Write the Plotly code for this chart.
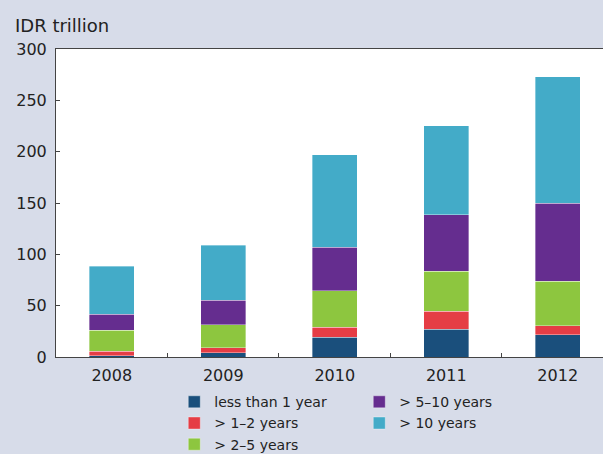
import plotly.graph_objects as go

years = ["2008", "2009", "2010", "2011", "2012"]
less_than_1 = [1.4, 4.3, 19.2, 26.9, 21.5]
y1_2 = [4.4, 4.8, 10.0, 17.8, 8.7]
y2_5 = [20.2, 22.4, 35.4, 39.0, 43.4]
y5_10 = [15.5, 23.9, 42.1, 55.1, 76.2]
gt10 = [46.7, 53.3, 90.5, 86.3, 123.1]

series_names = ["less than 1 year", "> 1–2 years", "> 2–5 years", "> 5–10 years", "> 10 years"]
series_values = [less_than_1, y1_2, y2_5, y5_10, gt10]
colors = ["#1a4f7c", "#e53d45", "#8dc63f", "#652d8f", "#43abc8"]
ranks = [1, 3, 5, 2, 4]

BG = "#d7dce9"
FONT = "DejaVu Sans"

fig = go.Figure()
for name, vals, col, rk in zip(series_names, series_values, colors, ranks):
    fig.add_trace(go.Bar(
        x=years, y=vals, name=name,
        marker=dict(color=col, line=dict(color="rgba(255,255,255,0.45)", width=0.8)),
        legendrank=rk,
    ))

fig.update_layout(
    width=603, height=454,
    barmode="stack", bargap=0.6,
    paper_bgcolor=BG, plot_bgcolor="white",
    margin=dict(l=56, r=0, t=48.5, b=97),
    font=dict(family=FONT, color="#222222", size=16),
    showlegend=True,
    legend=dict(
        orientation="h", xref="container", yref="container",
        x=0.289, y=0.1493, xanchor="left", yanchor="top",
        entrywidth=140, entrywidthmode="pixels",
        traceorder="normal", itemwidth=30,
        font=dict(family=FONT, size=14, color="#222222"),
        bgcolor="rgba(0,0,0,0)",
    ),
    annotations=[dict(
        text="IDR trillion", xref="paper", yref="paper",
        x=-0.0786, y=1.0762, xanchor="left", yanchor="middle",
        showarrow=False, font=dict(family=FONT, size=18, color="#222222"),
    )],
)

fig.update_xaxes(
    type="category", range=[-0.5, 4.406],
    showline=True, linecolor="#444444", linewidth=1, mirror=True,
    ticks="inside", ticklen=4, tickcolor="#444444", tickson="boundaries",
    showgrid=False, tickfont=dict(size=16), ticklabelstandoff=4,
)
fig.update_yaxes(
    range=[0, 300], dtick=50,
    showline=True, linecolor="#444444", linewidth=1,
    ticks="inside", ticklen=4, tickcolor="#444444",
    showgrid=False, zeroline=False, tickfont=dict(size=16),
    ticklabelstandoff=5,
)

fig.write_html(
    "out.html",
    config=dict(displayModeBar=False),
    post_script="document.body.style.margin='0';document.body.style.background='" + BG + "';",
)
